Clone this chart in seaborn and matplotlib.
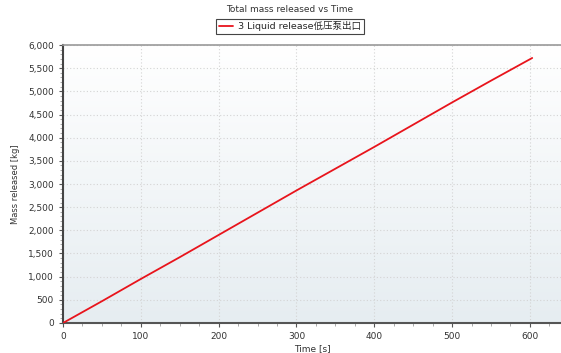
import numpy as np
import pandas as pd
import matplotlib
matplotlib.use('Agg')
import matplotlib.pyplot as plt
import seaborn as sns
from matplotlib.ticker import MultipleLocator, FuncFormatter

time_s = [0, 50, 100, 150, 200, 250, 300, 350, 400, 450, 500, 550, 603]
mass_kg = [0, 470, 950, 1420, 1900, 2380, 2860, 3330, 3800, 4280, 4760, 5230, 5720]
series_name = '3 Liquid release低压泵出口'

df = pd.DataFrame({'Time [s]': time_s, 'Mass released [kg]': mass_kg, 'series': series_name})

sns.set_style('white')
plt.rcParams['font.family'] = ['DejaVu Sans', 'Noto Sans CJK SC']

fig = plt.figure(figsize=(5.61, 3.53), dpi=100)
ax = fig.add_axes([0.1123, 0.085, 0.8877, 0.7875])

# gradient background: light blue-grey at bottom, white at top
grad = np.linspace(0, 1, 256).reshape(-1, 1)
cmap = matplotlib.colors.LinearSegmentedColormap.from_list('bg', ['#e6edf1', '#ffffff'])
ax.imshow(grad, aspect='auto', cmap=cmap, origin='lower',
          extent=[0, 640, 0, 6000], zorder=0)

sns.lineplot(data=df, x='Time [s]', y='Mass released [kg]', hue='series',
             palette=['#e8141c'], linewidth=1.3, ax=ax, zorder=3)

ax.set_xlim(0, 640)
ax.set_ylim(0, 6000)
ax.xaxis.set_major_locator(MultipleLocator(100))
ax.xaxis.set_minor_locator(MultipleLocator(25))
ax.yaxis.set_major_locator(MultipleLocator(500))
ax.yaxis.set_minor_locator(MultipleLocator(100))
ax.yaxis.set_major_formatter(FuncFormatter(lambda v, p: f'{int(v):,}'))

ax.grid(True, which='major', color='#d4d4d4', linestyle=(0, (1, 2)), linewidth=0.8, zorder=1)
ax.set_axisbelow(True)
ax.tick_params(axis='both', which='major', direction='out', length=3, width=0.8,
               labelsize=6.5, colors='#555555', labelcolor='#333333', left=True, bottom=True)
ax.tick_params(axis='both', which='minor', direction='out', length=2, width=0.5,
               colors='#888888', left=True, bottom=True)

ax.spines['right'].set_visible(False)
ax.spines['top'].set_color('#999999')
ax.spines['top'].set_linewidth(1.2)
ax.spines['left'].set_color('#444444')
ax.spines['left'].set_linewidth(1.5)
ax.spines['bottom'].set_color('#555555')
ax.spines['bottom'].set_linewidth(1.5)

ax.set_xlabel('Time [s]', fontsize=6.5, color='#333333', labelpad=2)
ax.set_ylabel('Mass released [kg]', fontsize=6, color='#333333', labelpad=6)

fig.text(0.517, 0.972, 'Total mass released vs Time', ha='center', va='center',
         fontsize=6.5, color='#333333')

handles, labels = ax.get_legend_handles_labels()
ax.legend(handles, labels, loc='center', bbox_to_anchor=(0.517, 0.925),
          bbox_transform=fig.transFigure, fontsize=6.8, frameon=True, fancybox=False,
          edgecolor='#444444', handlelength=1.5, borderpad=0.3, handletextpad=0.5,
          framealpha=1)
leg = ax.get_legend()
leg.get_frame().set_linewidth(0.8)

fig.savefig('out.png', dpi=100)
